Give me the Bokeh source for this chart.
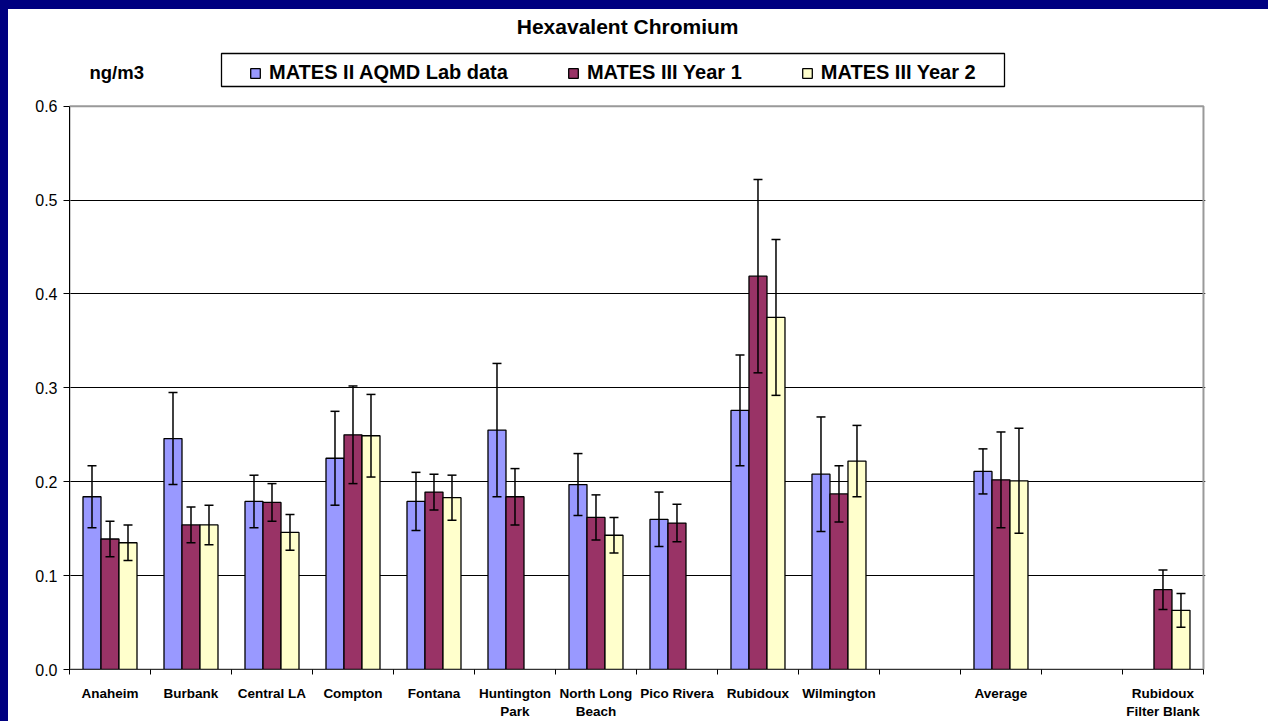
from bokeh.plotting import figure
from bokeh.models import (ColumnDataSource, Whisker, FixedTicker, Legend, LegendItem,
                          Label, BoxAnnotation, NumeralTickFormatter, TeeHead, Range1d, Spacer)
from bokeh.layouts import column, row
from bokeh.embed import file_html
from bokeh.resources import INLINE

# ---------------- data ----------------
categories = ["Anaheim", "Burbank", "Central LA", "Compton", "Fontana",
              "Huntington\nPark", "North Long\nBeach", "Pico Rivera", "Rubidoux",
              "Wilmington", "", "Average", "", "Rubidoux\nFilter Blank"]

series_names = ["MATES II AQMD Lab data", "MATES III Year 1", "MATES III Year 2"]

mates2 = [0.184, 0.246, 0.179, 0.225, 0.179, 0.255, 0.197, 0.160, 0.276, 0.208, None, 0.211, None, None]
mates2_err = [0.033, 0.049, 0.028, 0.050, 0.031, 0.071, 0.033, 0.029, 0.059, 0.061, None, 0.024, None, None]

mates3_y1 = [0.139, 0.154, 0.178, 0.250, 0.189, 0.184, 0.162, 0.156, 0.419, 0.187, None, 0.202, None, 0.085]
mates3_y1_err = [0.019, 0.019, 0.020, 0.052, 0.019, 0.030, 0.024, 0.020, 0.103, 0.030, None, 0.051, None, 0.021]

mates3_y2 = [0.135, 0.154, 0.146, 0.249, 0.183, None, 0.143, None, 0.375, 0.222, None, 0.201, None, 0.063]
mates3_y2_err = [0.019, 0.021, 0.019, 0.044, 0.024, None, 0.019, None, 0.083, 0.038, None, 0.056, None, 0.018]

y_ticks = [0.0, 0.1, 0.2, 0.3, 0.4, 0.5, 0.6]

colors = ["#9999FF", "#993366", "#FFFFCC"]
FONT = "Liberation Sans"
NAVY = "#000080"

# ---------------- figure ----------------
n = len(categories)
y_max = y_ticks[-1]
# the frame extends above the value axis to host title / unit / legend
p = figure(width=1260, height=712, output_backend="svg", toolbar_location=None,
           x_range=Range1d(0, n + 0.025), y_range=Range1d(0, 0.703),
           min_border_left=61, min_border_right=63, min_border_top=0, min_border_bottom=52,
           background_fill_color="white", border_fill_color="white")

p.outline_line_color = None

# plot-area border (gray top/right like the original)
p.add_layout(BoxAnnotation(left=0, right=n, bottom=0, top=y_max, fill_alpha=0,
                           line_color="#999999", line_alpha=1, line_width=2,
                           level="underlay"))

p.xgrid.visible = False
p.ygrid.ticker = FixedTicker(ticks=y_ticks[1:-1])
p.ygrid.grid_line_color = "black"
p.ygrid.grid_line_width = 1

# y axis
p.yaxis.bounds = (0, y_max)
p.yaxis.ticker = FixedTicker(ticks=y_ticks)
p.yaxis.formatter = NumeralTickFormatter(format="0.0")
p.yaxis.major_label_text_font = FONT
p.yaxis.major_label_text_font_size = "16px"
p.yaxis.major_label_text_color = "black"
p.yaxis.major_tick_out = 6
p.yaxis.major_tick_in = 0
p.yaxis.minor_tick_out = 0
p.yaxis.minor_tick_in = 0
p.yaxis.axis_line_color = "black"
p.yaxis.major_tick_line_color = "black"
p.yaxis.major_label_standoff = 6

# x axis: labels at centers, ticks at category boundaries
centers = [i + 0.5 for i in range(n)]
bounds = [float(i) for i in range(n + 1)]
p.xaxis.bounds = (0, n)
p.xaxis.ticker = FixedTicker(ticks=centers, minor_ticks=bounds)
p.xaxis.major_label_overrides = {c: lab for c, lab in zip(centers, categories)}
p.xaxis.major_tick_out = 0
p.xaxis.major_tick_in = 0
p.xaxis.minor_tick_out = 5
p.xaxis.minor_tick_in = 0
p.xaxis.minor_tick_line_color = "black"
p.xaxis.axis_line_color = "#333333"
p.xaxis.major_label_text_font = FONT
p.xaxis.major_label_text_font_size = "13.5px"
p.xaxis.major_label_text_font_style = "bold"
p.xaxis.major_label_text_color = "black"
p.xaxis.major_label_text_line_height = 1.2
p.xaxis.major_label_standoff = 11

# ---------------- bars + error bars ----------------
bar_w = 2 / 9
offsets = [-bar_w, 0.0, bar_w]
all_vals = [mates2, mates3_y1, mates3_y2]
all_errs = [mates2_err, mates3_y1_err, mates3_y2_err]
renderers = []
for vals, errs, off, col in zip(all_vals, all_errs, offsets, colors):
    xs, tops, ups, los = [], [], [], []
    for i, (v, e) in enumerate(zip(vals, errs)):
        if v is None:
            continue
        xs.append(i + 0.5 + off)
        tops.append(v)
        ups.append(v + e)
        los.append(v - e)
    src = ColumnDataSource(dict(x=xs, top=tops, upper=ups, lower=los))
    r = p.vbar(x="x", top="top", width=bar_w, source=src, fill_color=col,
               line_color="black", line_width=1.3)
    renderers.append(r)
    w = Whisker(base="x", upper="upper", lower="lower", source=src,
                line_color="black", line_width=1.5, level="overlay",
                upper_head=TeeHead(size=9, line_color="black", line_width=1.5),
                lower_head=TeeHead(size=9, line_color="black", line_width=1.5))
    p.add_layout(w)

# ---------------- title, unit label ----------------
p.add_layout(Label(x=669, y=643, x_units="screen", y_units="screen",
                   text="Hexavalent Chromium", text_align="right",
                   text_baseline="alphabetic", text_font=FONT,
                   text_font_size="21px", text_font_style="bold", text_color="black"))
p.add_layout(Label(x=20, y=597, x_units="screen", y_units="screen",
                   text="ng/m3", text_align="left", text_baseline="alphabetic",
                   text_font=FONT, text_font_size="18.5px",
                   text_font_style="bold", text_color="black"))

# ---------------- legend ----------------
p.add_layout(BoxAnnotation(left=152, right=935, bottom=583, top=616,
                           left_units="screen", right_units="screen",
                           bottom_units="screen", top_units="screen",
                           fill_alpha=0, line_color="black", line_alpha=1,
                           line_width=1.3, level="overlay"))
legend = Legend(items=[LegendItem(label=nm, renderers=[r]) for nm, r in zip(series_names, renderers)],
                orientation="horizontal", location=(180, 585),
                label_text_font=FONT, label_text_font_size="20px",
                label_text_font_style="bold", label_text_color="black",
                glyph_width=12, glyph_height=12, label_standoff=8, spacing=59,
                padding=4, margin=0, border_line_color=None, background_fill_alpha=0)
p.add_layout(legend)

# navy slide edge on the top and left, as in the original screenshot
top_edge = Spacer(width=1268, height=9, styles={"background-color": NAVY})
left_edge = Spacer(width=8, height=712, styles={"background-color": NAVY})
page = column(top_edge, row(left_edge, p))

open("out.html", "w").write(file_html(page, INLINE))
